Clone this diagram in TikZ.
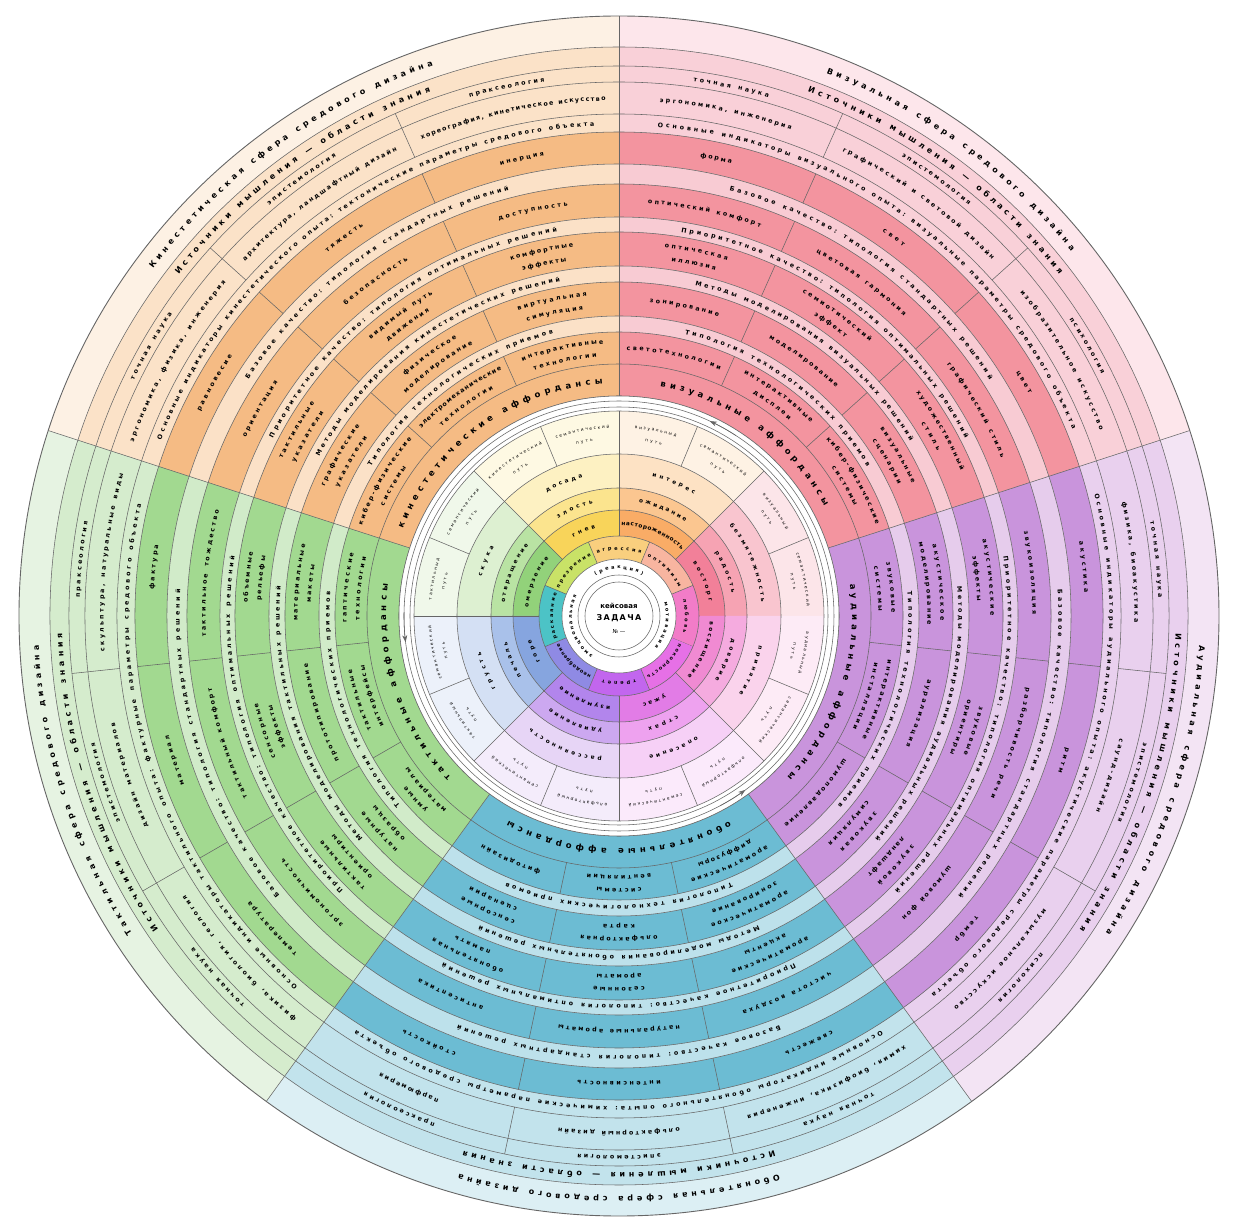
\documentclass[tikz,border=0pt]{standalone}
\usepackage{fontspec}
\setmainfont{DejaVu Sans}
\usetikzlibrary{decorations.text,arrows.meta}
\ExplSyntaxOn
\cs_new:Npn \strcount #1 {\str_count:n {#1}}
\ExplSyntaxOff
% sector colours
\definecolor{oT}{HTML}{FDF1E4}\definecolor{oO}{HTML}{FBE2C8}\definecolor{oL}{HTML}{FBE1C7}\definecolor{oD}{HTML}{F5BB84}
\definecolor{pT}{HTML}{FDE6EB}\definecolor{pO}{HTML}{F9D0D8}\definecolor{pL}{HTML}{F8CBD3}\definecolor{pD}{HTML}{F3949F}
\definecolor{uT}{HTML}{F3E4F4}\definecolor{uO}{HTML}{E9D0EE}\definecolor{uL}{HTML}{E6CCEC}\definecolor{uD}{HTML}{C994DC}
\definecolor{bT}{HTML}{DCEFF4}\definecolor{bO}{HTML}{C2E3EC}\definecolor{bL}{HTML}{BDE1EB}\definecolor{bD}{HTML}{6CBCD3}
\definecolor{gT}{HTML}{E6F3E2}\definecolor{gO}{HTML}{D5ECCD}\definecolor{gL}{HTML}{D1EBC9}\definecolor{gD}{HTML}{A2D990}
% petals
\definecolor{P0a}{HTML}{F9C5CF}\definecolor{P0b}{HTML}{F6A3B3}\definecolor{P0c}{HTML}{F28099}
\definecolor{P1a}{HTML}{FDE2C4}\definecolor{P1b}{HTML}{FBC690}\definecolor{P1c}{HTML}{F9AC66}
\definecolor{P2a}{HTML}{FDF1C2}\definecolor{P2b}{HTML}{FBE48E}\definecolor{P2c}{HTML}{F8D45A}
\definecolor{P3a}{HTML}{DDF0D1}\definecolor{P3b}{HTML}{B9E3A3}\definecolor{P3c}{HTML}{92D27A}
\definecolor{P4a}{HTML}{D4E0F4}\definecolor{P4b}{HTML}{A9C1EA}\definecolor{P4c}{HTML}{86A5DF}
\definecolor{P5a}{HTML}{E7D5F6}\definecolor{P5b}{HTML}{CCA8F0}\definecolor{P5c}{HTML}{B285EC}
\definecolor{P6a}{HTML}{F6D0F6}\definecolor{P6b}{HTML}{EEA2EF}\definecolor{P6c}{HTML}{E27CE6}
\definecolor{P7a}{HTML}{FAD3EC}\definecolor{P7b}{HTML}{F5ABDF}\definecolor{P7c}{HTML}{F08AD2}
\colorlet{W0}{P0a!45!white}\colorlet{W1}{P1a!45!white}\colorlet{W2}{P2a!45!white}\colorlet{W3}{P3a!45!white}
\colorlet{W4}{P4a!45!white}\colorlet{W5}{P5a!45!white}\colorlet{W6}{P6a!45!white}\colorlet{W7}{P7a!45!white}
% dyads
\definecolor{D0}{HTML}{F27CC8}\definecolor{D1}{HTML}{F8B5A0}\definecolor{D2}{HTML}{F9CF7E}\definecolor{D3}{HTML}{C9E267}
\definecolor{D4}{HTML}{4CC3C6}\definecolor{D5}{HTML}{8F8AE4}\definecolor{D6}{HTML}{C266EE}\definecolor{D7}{HTML}{E670E6}
% fonts
\newcommand\fT{\fontsize{8}{9}\selectfont\bfseries}
\newcommand\fA{\fontsize{8.5}{9}\selectfont\bfseries}
\newcommand\fL{\fontsize{6.3}{7}\selectfont\bfseries}
\newcommand\fP{\fontsize{5.8}{6}\selectfont\bfseries}
\newcommand\fD{\fontsize{5}{6}\selectfont\bfseries}
\newcommand\fW{\fontsize{4.3}{5}\selectfont}
% annular sector
\newcommand\ann[5]{\fill[#5] ({#1}:#3) arc[start angle={#1},end angle={#2},radius=#3] -- ({#2}:#4) arc[start angle={#2},end angle={#1},radius=#4] -- cycle;}
% text along clockwise arc: #1 centre angle, #2 radius, #3 pitch, #4 max span, #5 font, #6 text
\newcommand\atext[6]{%
 \edef\atxt{#6}%
 \edef\nchar{\expandafter\strcount\expandafter{\atxt}}%
 \pgfmathsetmacro\hs{min(\nchar*#3/(#2)*28.6479,(#4)/2)}%
 \pgfmathsetmacro\ctr{#1}%
 \edef\docmd{\noexpand\path[decorate,decoration={text along path,text align=fit to path,text={|\noexpand#5|\atxt}}]}%
 \docmd ({\ctr+\hs}:#2) arc[start angle={\ctr+\hs},end angle={\ctr-\hs},radius=#2];}
\newcommand\fullt[4]{\atext{\ca+36}{#1}{#2}{66}{#3}{#4}}
\newcommand\cl[3]{\atext{\ca+#1}{#2}{6.4}{21}{\fL}{#3}}
\newcommand\lite[2]{\atext{\ca+36}{#1}{7}{66}{\fL}{#2}}
\newcommand\common{\lite{439.5}{Базовое качество: типология стандартных решений}\lite{389}{Приоритетное качество: типология оптимальных решений}\lite{289.5}{Типология технологических приемов}}
\newcommand\sectorbase[5]{%
 \pgfmathsetmacro\sa{#1+72}%
 \ann{\sa}{#1}{569}{600}{#2}\ann{\sa}{#1}{484}{569}{#3}\ann{\sa}{#1}{452}{484}{#5}%
 \ann{\sa}{#1}{432}{452}{#4}\ann{\sa}{#1}{399}{432}{#5}\ann{\sa}{#1}{384}{399}{#4}%
 \ann{\sa}{#1}{350}{384}{#5}\ann{\sa}{#1}{334}{350}{#4}\ann{\sa}{#1}{300}{334}{#5}%
 \ann{\sa}{#1}{284}{300}{#4}\ann{\sa}{#1}{220}{284}{#5}%
 \foreach \rr in {220,252,284,300,334,350,384,399,432,452,484,502,534,550,569}{\draw[ln] (\sa:\rr) arc[start angle=\sa,end angle=#1,radius=\rr];}%
 \foreach \kk in {24,48}{\foreach \ri/\ro in {502/550,452/484,399/432,350/384,300/334,252/284}{\draw[ln] ({#1+\kk}:\ri) -- ({#1+\kk}:\ro);}}%
}
\newcommand\petal[9]{%
 \ann{#1+45}{#1}{128}{162}{#2}\ann{#1+45}{#1}{106}{128}{#3}\ann{#1+45}{#1}{80}{106}{#4}%
 \ann{#1+45}{#1}{162}{205}{#9}%
 \draw[ln] ({#1}:80) -- ({#1}:205);\draw[ln] ({#1+22.5}:162) -- ({#1+22.5}:205);%
 \atext{#1+22.5}{143}{6.5}{40}{\fP}{#5}\atext{#1+22.5}{115}{6.3}{40}{\fP}{#6}\atext{#1+22.5}{91}{6}{42}{\fP}{#7}%
 \atext{#1+11.25}{188}{4.2}{20}{\fW}{семантический}\atext{#1+11.25}{176.5}{4.2}{20}{\fW}{путь}%
 \atext{#1+33.75}{188}{4.2}{20}{\fW}{#8}\atext{#1+33.75}{176.5}{4.2}{20}{\fW}{путь}}
\newcommand\dyad[3]{\ann{#1+22.5}{#1-22.5}{57}{80}{#2}\draw[ln] ({#1-22.5}:57) -- ({#1-22.5}:80);\atext{#1}{66}{5.6}{40}{\fD}{#3}}
\begin{document}
\begin{tikzpicture}[x=1pt,y=1pt,ln/.style={draw=black!60,line width=0.55pt}]
\useasboundingbox (-619,-607) rectangle (616,616);
\sectorbase{90}{oT}{oO}{oL}{oD}
\sectorbase{18}{pT}{pO}{pL}{pD}
\sectorbase{-54}{uT}{uO}{uL}{uD}
\sectorbase{234}{bT}{bO}{bL}{bD}
\sectorbase{162}{gT}{gO}{gL}{gD}
\foreach \ang in {18,90,162,234,306} \draw[ln] (\ang:220) -- (\ang:600);
\draw[ln,line width=0.9pt] (0,0) circle(600);
% ---------- kinesthetic
\def\ca{90}
\fullt{581}{9}{\fT}{Кинестетическая сфера средового дизайна}
\fullt{557}{9}{\fT}{Источники мышления — области знания}
\cl{60}{539.5}{точная наука}\cl{36}{539.5}{эпистемология}\cl{12}{539.5}{праксеология}
\cl{60}{515.5}{эргономика, физика, инженерия}\cl{36}{515.5}{архитектура, ландшафтный дизайн}\cl{12}{515.5}{хореография, кинетическое искусство}
\lite{490.5}{Основные индикаторы кинестетического опыта: тектонические параметры средового объекта}
\cl{60}{466}{равновесие}\cl{36}{466}{тяжесть}\cl{12}{466}{инерция}
\common
\cl{60}{413.5}{ориентация}\cl{36}{413.5}{безопасность}\cl{12}{413.5}{доступность}
\cl{60}{371.5}{тактильные}\cl{60}{358.5}{указатели}\cl{36}{371.5}{видимый путь}\cl{36}{358.5}{движения}\cl{12}{371.5}{комфортные}\cl{12}{358.5}{эффекты}
\lite{339.5}{Методы моделирования кинестетических решений}
\cl{60}{321.5}{графические}\cl{60}{308.5}{указатели}\cl{36}{321.5}{физическое}\cl{36}{308.5}{моделирование}\cl{12}{321.5}{виртуальная}\cl{12}{308.5}{симуляция}
\cl{60}{272.5}{кибер-физические}\cl{60}{259.5}{системы}\cl{36}{272.5}{электромеханические}\cl{36}{259.5}{технологии}\cl{12}{272.5}{интерактивные}\cl{12}{259.5}{технологии}
\fullt{233}{10}{\fA}{кинестетические аффордансы}
% ---------- visual
\def\ca{18}
\fullt{581}{9}{\fT}{Визуальная сфера средового дизайна}
\fullt{557}{9}{\fT}{Источники мышления — области знания}
\cl{60}{539.5}{точная наука}\cl{36}{539.5}{эпистемология}\cl{12}{539.5}{психология}
\cl{60}{515.5}{эргономика, инженерия}\cl{36}{515.5}{графический и световой дизайн}\cl{12}{515.5}{изобразительное искусство}
\lite{490.5}{Основные индикаторы визуального опыта: визуальные параметры средового объекта}
\cl{60}{466}{форма}\cl{36}{466}{свет}\cl{12}{466}{цвет}
\common
\cl{60}{413.5}{оптический комфорт}\cl{36}{413.5}{цветовая гармония}\cl{12}{413.5}{графический стиль}
\cl{60}{371.5}{оптическая}\cl{60}{358.5}{иллюзия}\cl{36}{371.5}{семиотический}\cl{36}{358.5}{эффект}\cl{12}{371.5}{художественный}\cl{12}{358.5}{стиль}
\lite{339.5}{Методы моделирования визуальных решений}
\cl{60}{315}{зонирование}\cl{36}{315}{моделирование}\cl{12}{321.5}{визуальные}\cl{12}{308.5}{сценарии}
\cl{60}{266}{светотехнологии}\cl{36}{272.5}{интерактивные}\cl{36}{259.5}{дисплеи}\cl{12}{272.5}{кибер-физические}\cl{12}{259.5}{системы}
\fullt{233}{10}{\fA}{визуальные аффордансы}
% ---------- auditory
\def\ca{-54}
\fullt{581}{9}{\fT}{Аудиальная сфера средового дизайна}
\fullt{557}{9}{\fT}{Источники мышления — области знания}
\cl{60}{539.5}{точная наука}\cl{36}{539.5}{эпистемология}\cl{12}{539.5}{психология}
\cl{60}{515.5}{физика, биоакустика}\cl{36}{515.5}{саунд-дизайн}\cl{12}{515.5}{музыкальное искусство}
\lite{490.5}{Основные индикаторы аудиального опыта: акустические параметры средового объекта}
\cl{60}{466}{акустика}\cl{36}{466}{ритм}\cl{12}{466}{тембр}
\common
\cl{60}{413.5}{звукоизоляция}\cl{36}{413.5}{разборчивость речи}\cl{12}{413.5}{шумовой фон}
\cl{60}{371.5}{акустические}\cl{60}{358.5}{эффекты}\cl{36}{371.5}{звуковые}\cl{36}{358.5}{ориентиры}\cl{12}{371.5}{звуковой}\cl{12}{358.5}{ландшафт}
\lite{339.5}{Методы моделирования аудиальных решений}
\cl{60}{321.5}{акустическое}\cl{60}{308.5}{моделирование}\cl{36}{315}{аурализация}\cl{12}{321.5}{звуковая}\cl{12}{308.5}{симуляция}
\cl{60}{272.5}{звуковые}\cl{60}{259.5}{системы}\cl{36}{272.5}{интерактивные}\cl{36}{259.5}{инсталляции}\cl{12}{266}{шумоподавление}
\fullt{233}{10}{\fA}{аудиальные аффордансы}
% ---------- olfactory
\def\ca{234}
\fullt{581}{9}{\fT}{Обонятельная сфера средового дизайна}
\fullt{557}{9}{\fT}{Источники мышления — области знания}
\cl{60}{539.5}{точная наука}\cl{36}{539.5}{эпистемология}\cl{12}{539.5}{праксеология}
\cl{60}{515.5}{химия, биофизика, инженерия}\cl{36}{515.5}{ольфакторный дизайн}\cl{12}{515.5}{парфюмерия}
\lite{490.5}{Основные индикаторы обонятельного опыта: химические параметры средового объекта}
\cl{60}{466}{свежесть}\cl{36}{466}{интенсивность}\cl{12}{466}{стойкость}
\common
\cl{60}{413.5}{чистота воздуха}\cl{36}{413.5}{натуральные ароматы}\cl{12}{413.5}{антисептика}
\cl{60}{371.5}{ароматические}\cl{60}{358.5}{акценты}\cl{36}{371.5}{сезонные}\cl{36}{358.5}{ароматы}\cl{12}{371.5}{обонятельная}\cl{12}{358.5}{память}
\lite{339.5}{Методы моделирования обонятельных решений}
\cl{60}{321.5}{ароматическое}\cl{60}{308.5}{зонирование}\cl{36}{321.5}{ольфакторная}\cl{36}{308.5}{карта}\cl{12}{321.5}{сенсорные}\cl{12}{308.5}{сценарии}
\cl{60}{272.5}{ароматические}\cl{60}{259.5}{диффузоры}\cl{36}{272.5}{системы}\cl{36}{259.5}{вентиляции}\cl{12}{266}{фитодизайн}
\fullt{233}{10}{\fA}{обонятельные аффордансы}
% ---------- tactile
\def\ca{162}
\fullt{581}{9}{\fT}{Тактильная сфера средового дизайна}
\fullt{557}{9}{\fT}{Источники мышления — области знания}
\cl{60}{539.5}{точная наука}\cl{36}{539.5}{эпистемология}\cl{12}{539.5}{праксеология}
\cl{60}{515.5}{физика, биология, геология}\cl{36}{515.5}{дизайн материалов}\cl{12}{515.5}{скульптура, натуральные виды}
\lite{490.5}{Основные индикаторы тактильного опыта: фактурные параметры средового объекта}
\cl{60}{466}{температура}\cl{36}{466}{материал}\cl{12}{466}{фактура}
\common
\cl{60}{413.5}{эргономичность}\cl{36}{413.5}{тактильный комфорт}\cl{12}{413.5}{тактильное тождество}
\cl{60}{371.5}{тактильные}\cl{60}{358.5}{ориентиры}\cl{36}{371.5}{сенсорные}\cl{36}{358.5}{эффекты}\cl{12}{371.5}{объемные}\cl{12}{358.5}{рельефы}
\lite{339.5}{Методы моделирования тактильных решений}
\cl{60}{321.5}{натурные}\cl{60}{308.5}{образцы}\cl{36}{315}{прототипирование}\cl{12}{321.5}{материальные}\cl{12}{308.5}{макеты}
\cl{60}{272.5}{умные}\cl{60}{259.5}{материалы}\cl{36}{272.5}{тактильные}\cl{36}{259.5}{интерфейсы}\cl{12}{272.5}{гаптические}\cl{12}{259.5}{технологии}
\fullt{233}{10}{\fA}{тактильные аффордансы}
% ---------- inner
\fill[white] (0,0) circle(220);
\draw[ln] (0,0) circle(220);\draw[ln] (0,0) circle(215);\draw[ln] (0,0) circle(209);
\petal{0}{P0a}{P0b}{P0c}{безмятежность}{радость}{восторг}{визуальный}{W0}
\petal{45}{P1a}{P1b}{P1c}{интерес}{ожидание}{настороженность}{визуальный}{W1}
\petal{90}{P2a}{P2b}{P2c}{досада}{злость}{гнев}{кинестетический}{W2}
\petal{135}{P3a}{P3b}{P3c}{скука}{отвращение}{омерзение}{тактильный}{W3}
\petal{180}{P4a}{P4b}{P4c}{грусть}{печаль}{горе}{тактильный}{W4}
\petal{225}{P5a}{P5b}{P5c}{рассеянность}{удивление}{изумление}{ольфакторный}{W5}
\petal{270}{P6a}{P6b}{P6c}{опасение}{страх}{ужас}{ольфакторный}{W6}
\petal{315}{P7a}{P7b}{P7c}{принятие}{доверие}{восхищение}{аудиальный}{W7}
\foreach \rr in {106,128,162,205} \draw[ln] (0,0) circle(\rr);
\dyad{0}{D0}{любовь}\dyad{45}{D1}{оптимизм}\dyad{90}{D2}{агрессия}\dyad{135}{D3}{презрение}
\dyad{180}{D4}{раскаяние}\dyad{225}{D5}{неодобрение}\dyad{270}{D6}{трепет}\dyad{315}{D7}{покорность}
\draw[ln] (0,0) circle(80);
\fill[white] (0,0) circle(57);\draw[ln] (0,0) circle(57);
\draw[ln] (0,0) circle(41);\draw[ln] (0,0) circle(34);
\atext{90}{47}{5.5}{60}{\fD}{(реакция)}
\atext{195}{47}{5.2}{90}{\fD}{эмоциональная}
\atext{-12}{47}{5.2}{90}{\fD}{мотивация}
\node[font=\fontsize{7}{8}\selectfont\bfseries] (t1) at (0,10) {кейсовая};
\node[font=\fontsize{8}{9}\selectfont\bfseries] (t2) at (0,-2) {З\,А\,Д\,А\,Ч\,А};
\node[font=\fontsize{5.5}{6}\selectfont] (t3) at (0,-15) {№ —};
\foreach \ang in {65,187,306} \draw[ln,-{Stealth[length=7pt,width=5pt]}] ({\ang-8}:215) arc[start angle=\ang-8,end angle=\ang,radius=215];
\end{tikzpicture}
\end{document}
